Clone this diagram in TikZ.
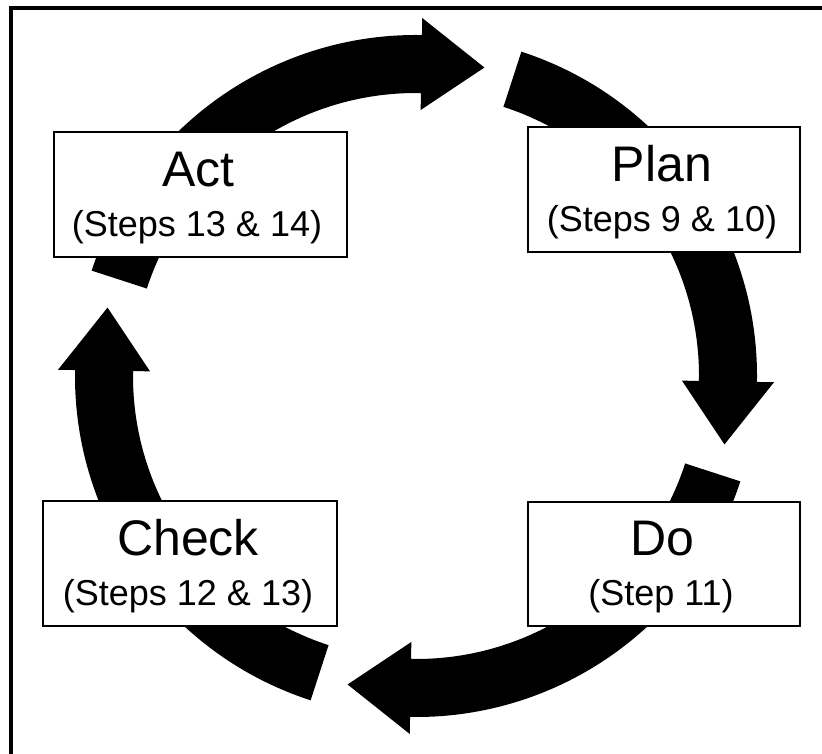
\documentclass[tikz,border=0pt]{standalone}
\usepackage{fontspec}
\setmainfont{Liberation Sans}
% circular arrow: tail angle, head-base angle, tip angle
\newcommand\cyclearc[3]{%
  \fill[cyclearrow] (#1:341) arc[start angle=#1, end angle=#2, radius=341pt]
    -- (#2:358) -- (#3:316) -- (#2:266) -- (#2:283)
    arc[start angle=#2, end angle=#1, radius=283pt] -- cycle;}
\begin{document}
\begin{tikzpicture}[x=1pt,y=1pt,
  stepbox/.style={draw=black, line width=2pt, fill=white, rectangle, inner sep=0pt, minimum height=125pt},
  titletext/.style={anchor=base, inner sep=0pt, font=\fontsize{50}{60}\selectfont},
  subtext/.style={anchor=base, inner sep=0pt, font=\fontsize{36}{43}\selectfont},
  cyclearrow/.style={fill=black, draw=none}
]
\useasboundingbox (0,0) rectangle (822,753);
\clip (0,0) rectangle (822,753);
\fill[white] (0,0) rectangle (822,753);
\draw[line width=4pt, line join=miter] (11,-10) -- (11,745) -- (840,745);

\begin{scope}[shift={(416,377)}]
  \cyclearc{162}{89}{77.5}
  \cyclearc{72}{-1}{-12.5}
  \cyclearc{-18}{-91}{-102.5}
  \cyclearc{-108}{-181}{-192.5}
\end{scope}

\node[stepbox, minimum width=293pt] (act) at (200.5,558.5) {};
\node[titletext] (actT) at (198.5,566) {Act};
\node[subtext] (actS) at (197,516.5) {(Steps 13 \& 14)};

\node[stepbox, minimum width=272pt] (plan) at (664,563.5) {};
\node[titletext] (planT) at (662,571) {Plan};
\node[subtext] (planS) at (662,521.5) {(Steps 9 \& 10)};

\node[stepbox, minimum width=294pt] (check) at (190,189.5) {};
\node[titletext] (checkT) at (188,197) {Check};
\node[subtext] (checkS) at (188,147.5) {(Steps 12 \& 13)};

\node[stepbox, minimum width=272pt, minimum height=124pt] (do) at (664,189) {};
\node[titletext] (doT) at (662,197) {Do};
\node[subtext] (doS) at (661,147.5) {(Step 11)};
\end{tikzpicture}
\end{document}
